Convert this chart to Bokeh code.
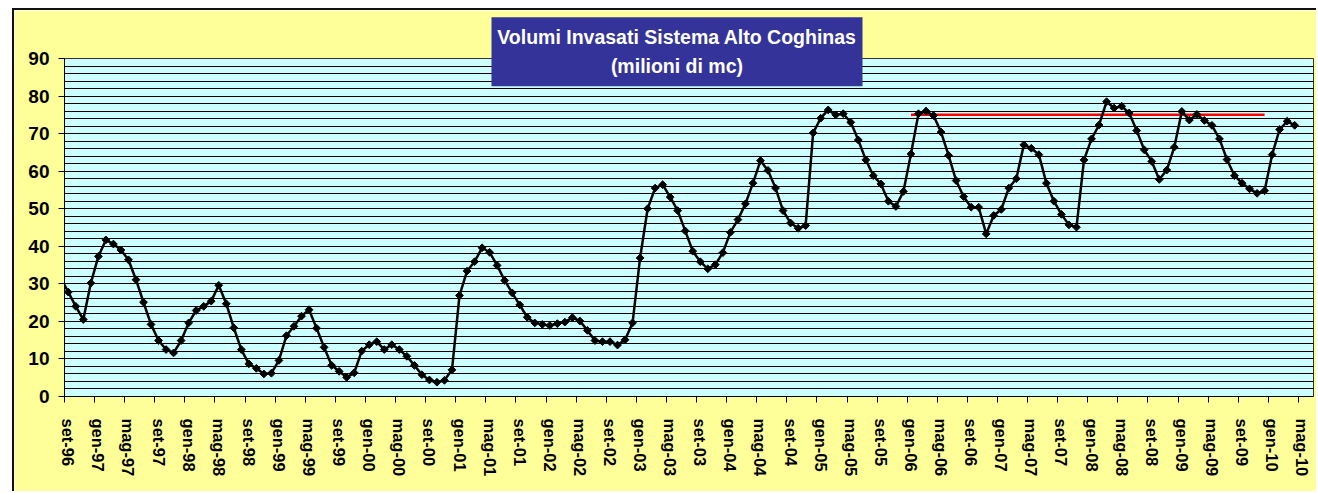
import numpy as np
from bokeh.plotting import figure
from bokeh.models import FixedTicker, Range1d
from bokeh.core.properties import value
from bokeh.embed import file_html
from bokeh.resources import INLINE

# Monthly stored volume (million m3); first value = ago-96, then set-96 ... apr-10
volumes = [31.5,
           27.8, 24.0, 20.5, 30.2, 37.3, 41.7, 40.6, 39.0, 36.4, 31.1,
           25.1, 19.2, 14.9, 12.5, 11.6, 14.9, 19.6, 22.9, 24.0, 25.4,
           29.6, 24.7, 18.3, 12.5, 8.7, 7.5, 6.0, 6.2, 9.6, 16.2,
           18.7, 21.4, 23.1, 18.2, 13.1, 8.3, 6.7, 5.1, 6.3, 12.1,
           13.8, 14.6, 12.5, 13.8, 12.5, 10.7, 8.3, 5.8, 4.4, 3.8,
           4.3, 7.1, 26.9, 33.4, 35.9, 39.6, 38.4, 34.9, 30.9, 27.6,
           24.4, 21.1, 19.6, 19.2, 18.9, 19.4, 19.8, 21.0, 20.1, 17.6,
           14.9, 14.6, 14.6, 13.7, 15.1, 19.6, 36.9, 50.0, 55.5, 56.4,
           53.1, 49.5, 44.1, 38.7, 35.9, 34.0, 35.1, 38.3, 43.7, 47.1,
           51.3, 56.8, 62.8, 60.2, 55.5, 49.5, 46.2, 44.8, 45.5, 70.2,
           74.1, 76.3, 75.0, 75.3, 73.0, 68.3, 63.0, 58.8, 56.6, 52.0,
           50.6, 54.6, 64.6, 75.3, 76.0, 74.8, 70.4, 64.2, 57.5, 53.2,
           50.4, 50.4, 43.3, 48.2, 49.8, 55.5, 58.0, 67.0, 66.1, 64.4,
           56.8, 52.0, 48.5, 45.7, 45.1, 63.0, 68.6, 72.3, 78.5, 76.8,
           77.3, 75.5, 70.8, 65.7, 62.6, 57.8, 60.3, 66.4, 75.9, 73.6,
           75.1, 73.5, 72.2, 68.6, 63.1, 58.8, 56.8, 55.3, 54.1, 54.8,
           64.4, 71.1, 73.3, 72.2]
month_index = list(range(-1, len(volumes) - 1))  # 0 = set-96

tick_labels = ["set-96", "gen-97", "mag-97", "set-97", "gen-98", "mag-98", "set-98",
               "gen-99", "mag-99", "set-99", "gen-00", "mag-00", "set-00", "gen-01",
               "mag-01", "set-01", "gen-02", "mag-02", "set-02", "gen-03", "mag-03",
               "set-03", "gen-04", "mag-04", "set-04", "gen-05", "mag-05", "set-05",
               "gen-06", "mag-06", "set-06", "gen-07", "mag-07", "set-07", "gen-08",
               "mag-08", "set-08", "gen-09", "mag-09", "set-09", "gen-10", "mag-10"]
tick_pos = [4 * i for i in range(len(tick_labels))]

ref_start, ref_end, ref_value = 112, 159, 75.0  # gen-06 .. dic-09

title_lines = ["Volumi Invasati Sistema Alto Coghinas", "(milioni di mc)"]

FONT = "Liberation Sans"

p = figure(width=1304, height=483, output_backend="svg", toolbar_location=None,
           x_range=Range1d(-0.5, 165.5), y_range=Range1d(0, 90),
           min_border_left=50, min_border_right=5, min_border_top=48,
           min_border_bottom=97)
p.title.visible = False
p.styles = {"margin-left": "12px", "margin-top": "8px",
            "border-left": "2px solid #111", "border-top": "2px solid #111"}

p.background_fill_color = "#CCFFFF"
p.border_fill_color = "#FFFF99"
p.outline_line_color = "#333333"
p.outline_line_width = 1

p.xgrid.visible = False
p.ygrid.ticker = FixedTicker(ticks=list(range(0, 91, 2)))
p.ygrid.grid_line_color = "#000000"
p.ygrid.grid_line_alpha = 1.0
p.ygrid.grid_line_width = 1

p.xaxis.ticker = FixedTicker(ticks=tick_pos,
                             minor_ticks=[t - 0.5 for t in range(0, 166, 4)])
p.xaxis.major_label_overrides = {t: l for t, l in zip(tick_pos, tick_labels)}
p.xaxis.major_tick_out = 0
p.xaxis.major_tick_in = 0
p.xaxis.minor_tick_out = 6
p.xaxis.minor_tick_in = 0
p.xaxis.minor_tick_line_color = "black"
p.xaxis.major_label_orientation = "vertical"
p.xaxis.major_label_standoff = 16
p.xaxis.major_label_text_font = FONT
p.xaxis.major_label_text_font_style = "bold"
p.xaxis.major_label_text_font_size = "16.5px"
p.xaxis.major_label_text_color = "black"
p.xaxis.axis_line_color = "black"

p.yaxis.ticker = FixedTicker(ticks=list(range(0, 91, 10)), minor_ticks=[])
p.yaxis.major_tick_out = 6
p.yaxis.major_tick_in = 0
p.yaxis.major_label_standoff = 9
p.yaxis.major_label_text_font = FONT
p.yaxis.major_label_text_font_style = "bold"
p.yaxis.major_label_text_font_size = "19px"
p.yaxis.major_label_text_color = "black"
p.yaxis.axis_line_color = "black"

p.line([ref_start, ref_end], [ref_value, ref_value], line_color="#FF0000", line_width=2.5)
p.line(month_index, volumes, line_color="black", line_width=2.5)
p.scatter(month_index, volumes, marker="square", size=5.5, angle=np.pi / 4,
          color="black")

# title box (drawn on the overlay level so it can extend above the plot frame)
p.quad(left=[56.25], right=[105.56], bottom=[82.6], top=[101.0],
       fill_color="#333399", line_color=None, level="overlay")
p.text(x=[80.9, 80.9], y=[95.6, 87.9], text=title_lines,
       text_align="center", text_baseline="middle", text_color="white",
       text_font=value(FONT), text_font_style="bold", text_font_size="19.5px",
       level="overlay")

open("out.html", "w").write(file_html(p, INLINE))
